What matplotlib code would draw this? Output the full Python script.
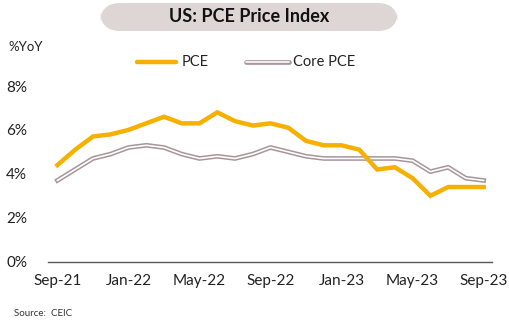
import matplotlib
matplotlib.use("Agg")
import matplotlib.pyplot as plt
from matplotlib.patches import FancyBboxPatch
import matplotlib.patheffects as pe
import numpy as np

plt.rcParams['font.family'] = ['Lato', 'DejaVu Sans']

months = ["Sep-21","Oct-21","Nov-21","Dec-21","Jan-22","Feb-22","Mar-22","Apr-22","May-22",
          "Jun-22","Jul-22","Aug-22","Sep-22","Oct-22","Nov-22","Dec-22","Jan-23","Feb-23",
          "Mar-23","Apr-23","May-23","Jun-23","Jul-23","Aug-23","Sep-23"]
pce = [4.4, 5.1, 5.7, 5.8, 6.0, 6.3, 6.6, 6.3, 6.3, 6.8, 6.4, 6.2, 6.3, 6.1, 5.5, 5.3, 5.3,
       5.1, 4.2, 4.3, 3.8, 3.0, 3.4, 3.4, 3.4]
core = [3.7, 4.2, 4.7, 4.9, 5.2, 5.3, 5.2, 4.9, 4.7, 4.8, 4.7, 4.9, 5.2, 5.0, 4.8, 4.7, 4.7,
        4.7, 4.7, 4.7, 4.6, 4.1, 4.3, 3.8, 3.7]
tick_labels = ["Sep-21","Jan-22","May-22","Sep-22","Jan-23","May-23","Sep-23"]
yticks = [0, 2, 4, 6, 8]

W, H = 510, 328
fig = plt.figure(figsize=(W/100, H/100), dpi=100)
ax = fig.add_axes([48/W, 1-261.7/H, 444/W, (261.7-86)/H])

x = np.arange(len(months))
orange = '#f5b000'
taupe = '#a8959a'
ax.plot(x, pce, color=orange, lw=3.2, solid_joinstyle='miter', zorder=3)
ax.plot(x, core, color=taupe, lw=3.4, zorder=2)
ax.plot(x, core, color='white', lw=1.2, zorder=2.5)

ax.set_xlim(-0.53, 24.47)
ax.set_ylim(0, 8)
ax.set_yticks(yticks)
ax.set_yticklabels([f"{v}%" for v in yticks], fontsize=11, color='#222222')
ax.set_xticks([months.index(m) for m in tick_labels])
ax.set_xticklabels(tick_labels, fontsize=11, color='#222222')
ax.tick_params(axis='both', length=0)
ax.tick_params(axis='y', pad=15)
ax.tick_params(axis='x', pad=9)
for s in ['top', 'right', 'left']:
    ax.spines[s].set_visible(False)
ax.spines['bottom'].set_color('#555555')
ax.spines['bottom'].set_linewidth(1.0)

# title box
box = FancyBboxPatch((100/W, 1-31/H), 298/W, 28/H,
                     boxstyle="round,pad=0,rounding_size=0.04",
                     transform=fig.transFigure, facecolor='#ddd6d4', edgecolor='none',
                     mutation_aspect=W/H)
fig.patches.append(box)
fig.text(249/W, 1-17/H, "US: PCE Price Index", ha='center', va='center',
         fontsize=13, fontweight='bold', color='#111111')

fig.text(8/W, 1-47/H, "%YoY", ha='left', va='center', fontsize=9.5, color='#222222')

# legend
ly = 1-62/H
fig.lines.append(plt.Line2D([137/W, 176/W], [ly, ly], transform=fig.transFigure,
                            color=orange, lw=3.2, solid_capstyle='round'))
fig.text(182/W, ly, "PCE", ha='left', va='center', fontsize=10.5, color='#222222')
fig.lines.append(plt.Line2D([246/W, 289/W], [ly, ly], transform=fig.transFigure,
                            color=taupe, lw=3.4, solid_capstyle='round'))
fig.lines.append(plt.Line2D([246/W, 289/W], [ly, ly], transform=fig.transFigure,
                            color='white', lw=1.2, solid_capstyle='round'))
fig.text(293/W, ly, "Core PCE", ha='left', va='center', fontsize=10.5, color='#222222')

fig.text(14/W, 1-313/H, "Source:  CEIC", ha='left', va='center', fontsize=7, color='#333333')

fig.savefig("out.png", dpi=100)
